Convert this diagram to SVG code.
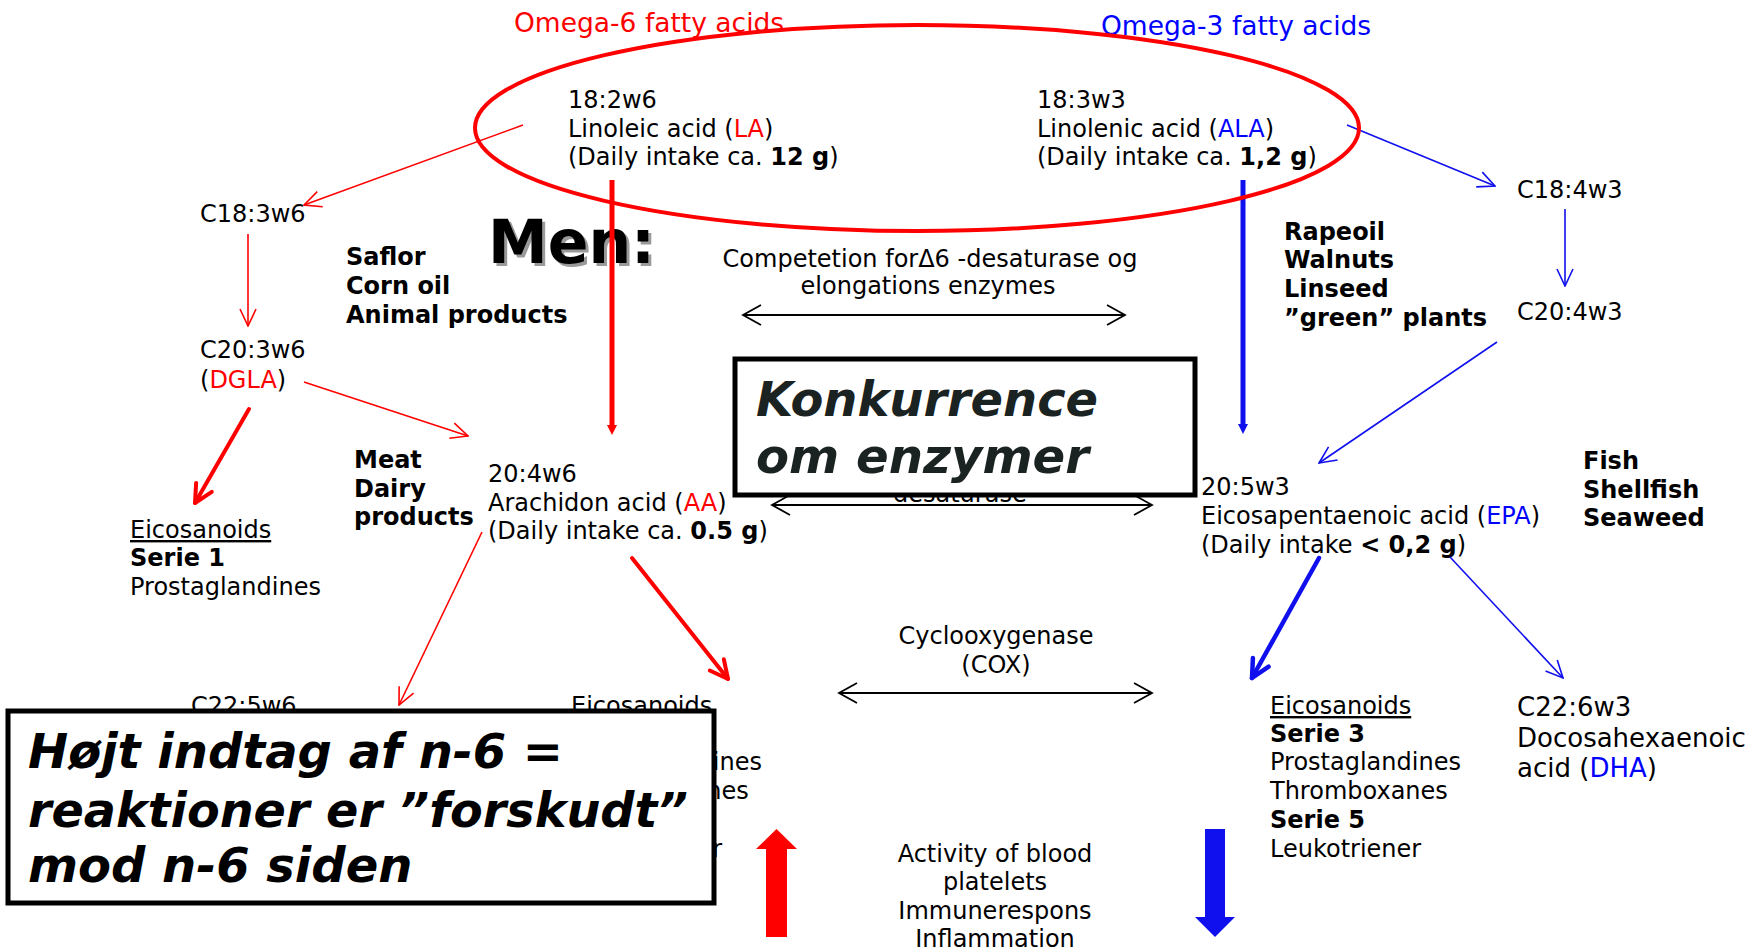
<svg xmlns="http://www.w3.org/2000/svg" width="1750" height="950" viewBox="0 0 1750 950">
<style>
text{font-family:"DejaVu Sans","Verdana",sans-serif;font-size:24px;fill:#000}
.b{font-weight:bold}
.r{fill:#ff0000}
.bl{fill:#0000ff}
.u{text-decoration:underline}
.title{font-size:26.5px}
.big{font-weight:bold;font-style:italic;font-size:48px}
.c{text-anchor:middle}
.lr1{stroke:#ff0000;stroke-width:1.6;fill:none}
.lr4{stroke:#ff0000;stroke-width:4;fill:none;stroke-linecap:round}
.lr5{stroke:#ff0000;stroke-width:5;fill:none}
.lb1{stroke:#1010ee;stroke-width:1.6;fill:none}
.lb4{stroke:#1010ee;stroke-width:4.5;fill:none;stroke-linecap:round}
.lb5{stroke:#1010ee;stroke-width:5;fill:none}
.lk{stroke:#000;stroke-width:1.8;fill:none}
.box{fill:#fff;stroke:#000;stroke-width:5}
</style>
<defs>
<marker id="mR1" viewBox="0 0 20 20" markerUnits="userSpaceOnUse" markerWidth="20" markerHeight="20" refX="19" refY="10" orient="auto"><path d="M2,2 L19,10 L2,18" fill="none" stroke="#ff0000" stroke-width="1.6"/></marker>
<marker id="mR4" viewBox="0 0 24 24" markerUnits="userSpaceOnUse" markerWidth="24" markerHeight="24" refX="21" refY="12" orient="auto"><path d="M3,3 L21,12 L3,21" fill="none" stroke="#ff0000" stroke-width="4" stroke-linejoin="round" stroke-linecap="round"/></marker>
<marker id="mB1" viewBox="0 0 20 20" markerUnits="userSpaceOnUse" markerWidth="20" markerHeight="20" refX="19" refY="10" orient="auto"><path d="M2,2 L19,10 L2,18" fill="none" stroke="#1010ee" stroke-width="1.6"/></marker>
<marker id="mB4" viewBox="0 0 24 24" markerUnits="userSpaceOnUse" markerWidth="24" markerHeight="24" refX="21" refY="12" orient="auto"><path d="M3,3 L21,12 L3,21" fill="none" stroke="#1010ee" stroke-width="4.5" stroke-linejoin="round" stroke-linecap="round"/></marker>
<marker id="mK" viewBox="0 0 22 22" markerUnits="userSpaceOnUse" markerWidth="22" markerHeight="22" refX="20" refY="11" orient="auto-start-reverse"><path d="M2,1 L20,11 L2,21" fill="none" stroke="#000" stroke-width="1.8"/></marker>
<marker id="mRT" viewBox="0 0 10 10" markerUnits="userSpaceOnUse" markerWidth="10" markerHeight="10" refX="2" refY="5" orient="auto"><path d="M0,0 L10,5 L0,10 z" fill="#ff0000"/></marker>
<marker id="mBT" viewBox="0 0 10 10" markerUnits="userSpaceOnUse" markerWidth="10" markerHeight="10" refX="2" refY="5" orient="auto"><path d="M0,0 L10,5 L0,10 z" fill="#1010ee"/></marker>
</defs>
<rect width="1750" height="950" fill="#fff"/>

<g id="titles">
<text class="title r" x="514" y="32">Omega-6 fatty acids</text>
<text class="title bl" x="1101" y="35">Omega-3 fatty acids</text>
</g>

<g id="node-LA">
<text x="568" y="108">18:2w6</text>
<text x="568" y="137">Linoleic acid (<tspan class="r">LA</tspan>)</text>
<text x="568" y="165">(Daily intake ca. <tspan class="b">12 g</tspan>)</text>
</g>
<g id="node-ALA">
<text x="1037" y="108">18:3w3</text>
<text x="1037" y="137">Linolenic acid (<tspan class="bl">ALA</tspan>)</text>
<text x="1037" y="165">(Daily intake ca. <tspan class="b">1,2 g</tspan>)</text>
</g>
<g id="node-C18-3w6"><text x="200" y="222">C18:3w6</text></g>
<g id="node-DGLA">
<text x="200" y="358">C20:3w6</text>
<text x="200" y="388">(<tspan class="r">DGLA</tspan>)</text>
</g>
<g id="node-serie1">
<text class="u" x="130" y="538">Eicosanoids</text>
<text class="b" x="130" y="566">Serie 1</text>
<text x="130" y="595">Prostaglandines</text>
</g>
<g id="src-omega6">
<text class="b" x="346" y="265">Saflor</text>
<text class="b" x="346" y="294">Corn oil</text>
<text class="b" x="346" y="323">Animal products</text>
</g>
<g id="men">
<text x="491" y="266" font-size="60" font-weight="bold" fill="#9a9a9a" style="font-size:60px;fill:#9a9a9a">Men:</text>
<text x="488" y="263" font-size="60" font-weight="bold" style="font-size:60px">Men:</text>
</g>
<g id="competition1">
<text class="c" x="930" y="267">Competetion forΔ6 -desaturase og</text>
<text class="c" x="928" y="294">elongations enzymes</text>
</g>
<g id="competition2"><text x="893" y="502">desaturase</text></g>
<g id="src-meat">
<text class="b" x="354" y="468">Meat</text>
<text class="b" x="354" y="497">Dairy</text>
<text class="b" x="354" y="525">products</text>
</g>
<g id="node-AA">
<text x="488" y="482">20:4w6</text>
<text x="488" y="511">Arachidon acid (<tspan class="r">AA</tspan>)</text>
<text x="488" y="539">(Daily intake ca. <tspan class="b">0.5 g</tspan>)</text>
</g>
<g id="node-C22-5w6"><text x="191" y="714">C22:5w6</text></g>
<g id="node-serie2">
<text class="u" x="571" y="714">Eicosanoids</text>
<text x="571" y="770">Prostaglandines</text>
<text x="571" y="799">Thromboxanes</text>
<text x="571" y="857">Leukotriener</text>
</g>
<g id="cox">
<text class="c" x="996" y="644">Cyclooxygenase</text>
<text class="c" x="996" y="673">(COX)</text>
</g>
<g id="activity">
<text class="c" x="995" y="862">Activity of blood</text>
<text class="c" x="995" y="890">platelets</text>
<text class="c" x="995" y="919">Immunerespons</text>
<text class="c" x="995" y="947">Inflammation</text>
</g>
<g id="src-omega3">
<text class="b" x="1284" y="240">Rapeoil</text>
<text class="b" x="1284" y="268">Walnuts</text>
<text class="b" x="1284" y="297">Linseed</text>
<text class="b" x="1284" y="326">”green” plants</text>
</g>
<g id="node-C18-4w3"><text x="1517" y="198">C18:4w3</text></g>
<g id="node-C20-4w3"><text x="1517" y="320">C20:4w3</text></g>
<g id="node-EPA">
<text x="1201" y="495">20:5w3</text>
<text x="1201" y="524">Eicosapentaenoic acid (<tspan class="bl">EPA</tspan>)</text>
<text x="1201" y="553">(Daily intake <tspan class="b">&lt; 0,2 g</tspan>)</text>
</g>
<g id="src-fish">
<text class="b" x="1583" y="469">Fish</text>
<text class="b" x="1583" y="498">Shellfish</text>
<text class="b" x="1583" y="526">Seaweed</text>
</g>
<g id="node-serie3">
<text class="u" x="1270" y="714">Eicosanoids</text>
<text class="b" x="1270" y="742">Serie 3</text>
<text x="1270" y="770">Prostaglandines</text>
<text x="1270" y="799">Thromboxanes</text>
<text class="b" x="1270" y="828">Serie 5</text>
<text x="1270" y="857">Leukotriener</text>
</g>
<g id="node-DHA">
<text x="1517" y="716" style="font-size:26px">C22:6w3</text>
<text x="1517" y="747" style="font-size:26px">Docosahexaenoic</text>
<text x="1517" y="777" style="font-size:26px">acid (<tspan class="bl">DHA</tspan>)</text>
</g>

<g id="connectors">
<line class="lr1" x1="523" y1="125" x2="304" y2="205" marker-end="url(#mR1)"/>
<line class="lr1" x1="248" y1="234" x2="248" y2="326" marker-end="url(#mR1)"/>
<line class="lr4" x1="249" y1="409" x2="195" y2="503" marker-end="url(#mR4)"/>
<line class="lr1" x1="304" y1="382" x2="468" y2="436" marker-end="url(#mR1)"/>
<line class="lr5" x1="612" y1="180" x2="612" y2="427" marker-end="url(#mRT)"/>
<line class="lr1" x1="482" y1="532" x2="399" y2="705" marker-end="url(#mR1)"/>
<line class="lr4" x1="632" y1="558" x2="728" y2="679" marker-end="url(#mR4)"/>
<line class="lb1" x1="1347" y1="125" x2="1495" y2="186" marker-end="url(#mB1)"/>
<line class="lb1" x1="1565" y1="209" x2="1565" y2="286" marker-end="url(#mB1)"/>
<line class="lb1" x1="1497" y1="342" x2="1319" y2="463" marker-end="url(#mB1)"/>
<line class="lb5" x1="1243" y1="180" x2="1243" y2="426" marker-end="url(#mBT)"/>
<line class="lb4" x1="1319" y1="558" x2="1252" y2="678" marker-end="url(#mB4)"/>
<line class="lb1" x1="1450" y1="557" x2="1563" y2="678" marker-end="url(#mB1)"/>
<line class="lk" x1="743" y1="315" x2="1125" y2="315" marker-start="url(#mK)" marker-end="url(#mK)"/>
<line class="lk" x1="772" y1="505" x2="1152" y2="505" marker-start="url(#mK)" marker-end="url(#mK)"/>
<line class="lk" x1="839" y1="693" x2="1152" y2="693" marker-start="url(#mK)" marker-end="url(#mK)"/>
<polygon points="766,937 787,937 787,849 797,849 776.5,829 756,849 766,849" fill="#ff0000"/>
<polygon points="1205,829 1225,829 1225,917 1235,917 1215,937 1195,917 1205,917" fill="#1010ee"/>
</g>

<g id="omega-ellipse">
<ellipse cx="917" cy="128" rx="442" ry="103" fill="none" stroke="#ff0000" stroke-width="4"/>
</g>

<g id="box-konkurrence">
<rect class="box" x="735" y="359" width="460" height="136"/>
<text class="big" x="756" y="416" textLength="342" lengthAdjust="spacingAndGlyphs" style="fill:#1a2321">Konkurrence</text>
<text class="big" x="756" y="473" textLength="333" lengthAdjust="spacingAndGlyphs" style="fill:#1a2321">om enzymer</text>
</g>

<g id="box-hoejt">
<rect class="box" x="8" y="711" width="706" height="192"/>
<text class="big" x="28" y="768">Højt indtag af n-6 =</text>
<text class="big" x="28" y="827" textLength="660" lengthAdjust="spacingAndGlyphs">reaktioner er ”forskudt”</text>
<text class="big" x="28" y="882">mod n-6 siden</text>
</g>
</svg>
